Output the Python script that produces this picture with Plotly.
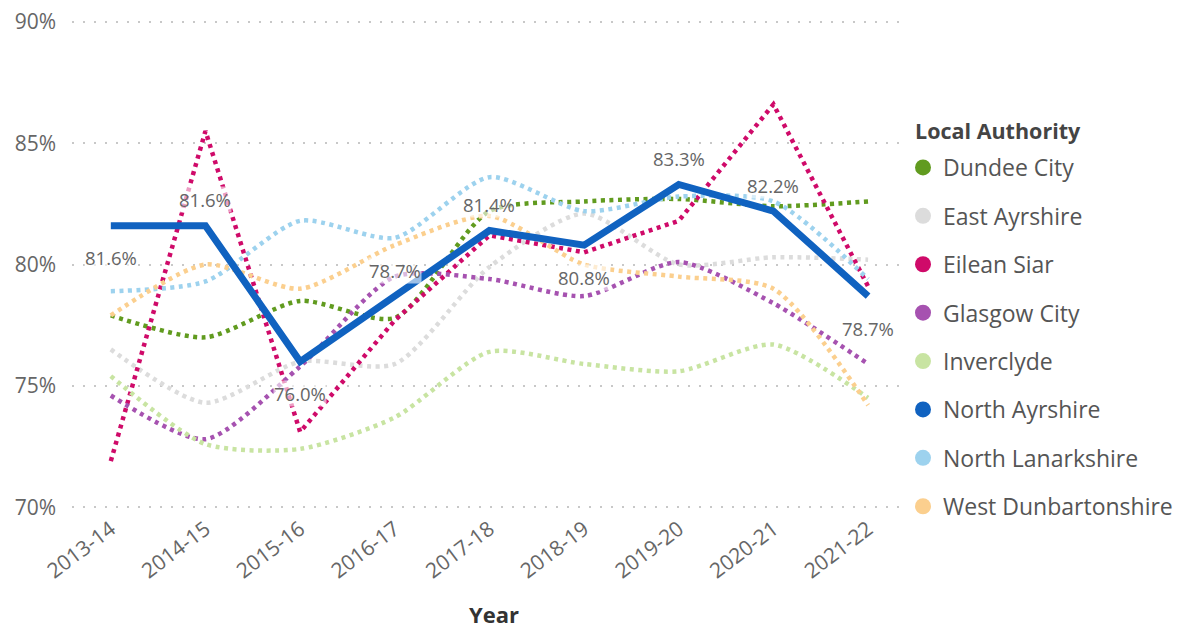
import plotly.graph_objects as go

# Financial years on the category axis
years = ["2013-14", "2014-15", "2015-16", "2016-17", "2017-18",
         "2018-19", "2019-20", "2020-21", "2021-22"]

# Percentage values per local authority
dundee_city = [77.9, 77.0, 78.5, 77.8, 82.2, 82.6, 82.7, 82.4, 82.6]
east_ayrshire = [76.5, 74.3, 76.0, 75.9, 79.9, 82.1, 80.0, 80.3, 80.2]
eilean_siar = [71.9, 85.5, 73.1, 77.7, 81.2, 80.5, 81.8, 86.6, 79.1]
glasgow_city = [74.6, 72.8, 75.8, 79.5, 79.4, 78.7, 80.1, 78.4, 75.9]
inverclyde = [75.4, 72.6, 72.4, 73.7, 76.4, 75.9, 75.6, 76.7, 74.5]
north_ayrshire = [81.6, 81.6, 76.0, 78.7, 81.4, 80.8, 83.3, 82.2, 78.7]
north_lanarkshire = [78.9, 79.3, 81.8, 81.1, 83.6, 82.2, 82.8, 82.6, 79.4]
west_dunbartonshire = [77.9, 80.0, 79.0, 80.8, 82.0, 80.0, 79.5, 79.0, 74.2]

# Which side of the North Ayrshire point each data label sits on
label_side = ["below", "above", "below", "above", "above",
              "below", "above", "above", "below"]

y_ticks = [70, 75, 80, 85, 90]

FONT = "Open Sans, Noto Sans, sans-serif"
TEXT_GREY = "#666666"

# name, values, colour, interpolation
dotted_series = [
    ("Dundee City", dundee_city, "#619B1F", "spline"),
    ("East Ayrshire", east_ayrshire, "#DCDCDC", "spline"),
    ("Eilean Siar", eilean_siar, "#CF0A69", "linear"),
    ("Glasgow City", glasgow_city, "#A652B0", "spline"),
    ("Inverclyde", inverclyde, "#C8E4A2", "spline"),
    ("North Lanarkshire", north_lanarkshire, "#9DD2EE", "spline"),
    ("West Dunbartonshire", west_dunbartonshire, "#FBCF8E", "spline"),
]
highlight = ("North Ayrshire", north_ayrshire, "#1062C0")

legend_order = ["Dundee City", "East Ayrshire", "Eilean Siar", "Glasgow City",
                "Inverclyde", "North Ayrshire", "North Lanarkshire",
                "West Dunbartonshire"]
colour_of = {name: col for name, _, col, _ in dotted_series}
colour_of[highlight[0]] = highlight[2]

fig = go.Figure()

for name, vals, col, shape in dotted_series:
    line = dict(color=col, width=4.5, dash="4px,4.5px", shape=shape)
    if shape == "spline":
        line["smoothing"] = 0.7
    fig.add_trace(go.Scatter(
        x=years, y=vals, mode="lines", name=name, line=line,
        showlegend=False, hoverinfo="skip"))

fig.add_trace(go.Scatter(
    x=years, y=highlight[1], mode="lines", name=highlight[0],
    line=dict(color=highlight[2], width=7), showlegend=False))

# Legend entries drawn as round markers
for i, name in enumerate(legend_order):
    fig.add_trace(go.Scatter(
        x=[None], y=[None], mode="markers", name=name,
        legendgroup=f"g{i}",
        marker=dict(color=colour_of[name], size=16, symbol="circle")))

PLOT_L, PLOT_R, PLOT_T, PLOT_B = 72, 905, 17, 512
W, H = 1182, 629


def px_x(px):
    return (px - PLOT_L) / (PLOT_R - PLOT_L)


def px_y(px):
    return (PLOT_B - px) / (PLOT_B - PLOT_T)


# Data labels for North Ayrshire
annotations = []
for yr, v, side in zip(years, north_ayrshire, label_side):
    annotations.append(dict(
        x=yr, y=v, xref="x", yref="y", text=f"{v:.1f}%",
        showarrow=False, yshift=26 if side == "above" else -32,
        font=dict(family=FONT, size=18.5, color=TEXT_GREY),
        bgcolor="rgba(255,255,255,0.6)", borderpad=0))

# Legend heading
annotations.append(dict(
    x=px_x(913), y=px_y(130), xref="paper", yref="paper",
    text="<b>Local Authority</b>", showarrow=False,
    xanchor="left", yanchor="middle",
    font=dict(family=FONT, size=21.5, color="#444444")))

# x-axis heading
annotations.append(dict(
    x=px_x(494), y=px_y(614), xref="paper", yref="paper",
    text="<b>Year</b>", showarrow=False,
    xanchor="center", yanchor="middle",
    font=dict(family=FONT, size=22, color="#333333")))

fig.update_layout(
    width=W, height=H,
    margin=dict(l=PLOT_L, r=W - PLOT_R, t=PLOT_T, b=H - PLOT_B,
                autoexpand=False),
    paper_bgcolor="white", plot_bgcolor="white",
    font=dict(family=FONT, color=TEXT_GREY),
    annotations=annotations,
    legend=dict(
        font=dict(family=FONT, size=23, color="#555555"),
        x=px_x(903), xanchor="left",
        y=px_y(146), yanchor="top",
        tracegroupgap=15.5, itemsizing="trace",
        bgcolor="rgba(0,0,0,0)"),
    xaxis=dict(
        type="category", range=[-0.41, 8.39], automargin=False,
        showgrid=False, zeroline=False, showline=False,
        tickangle=-37, ticks="",
        tickfont=dict(family=FONT, size=21, color=TEXT_GREY)),
    yaxis=dict(
        range=[69.8, 90.2], tickvals=y_ticks, automargin=False,
        ticktext=[f"{t}%" for t in y_ticks],
        showgrid=True, gridcolor="#C8C8C8", gridwidth=1.5,
        griddash="1.5px,9.5px", zeroline=False, showline=False,
        ticks="", ticklabelstandoff=15,
        tickfont=dict(family=FONT, size=21, color=TEXT_GREY)),
)

fig.write_html("out.html")
